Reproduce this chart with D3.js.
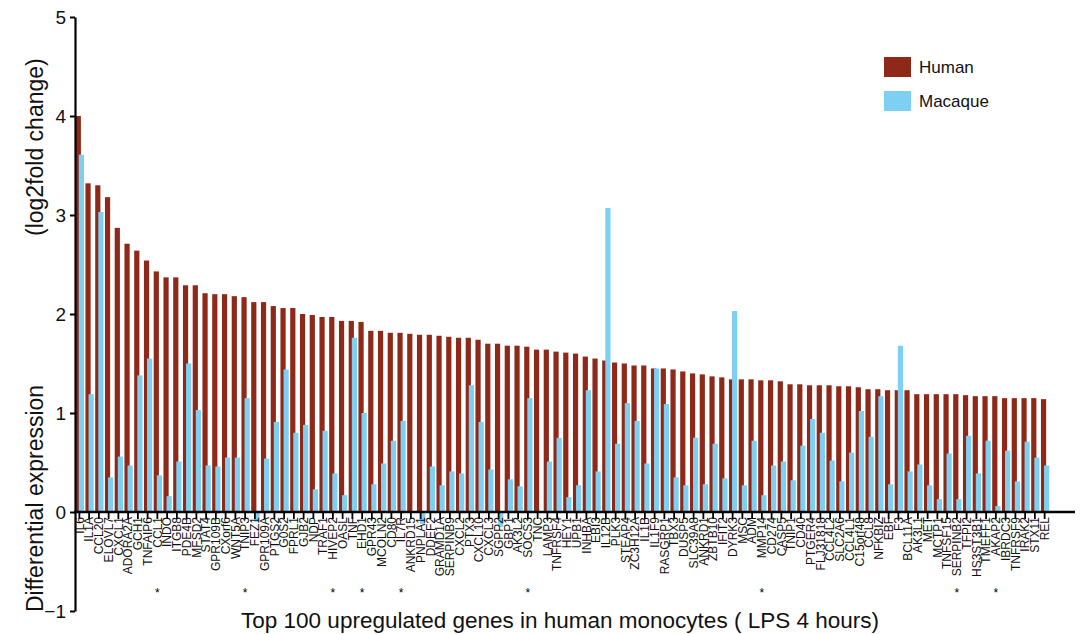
<!DOCTYPE html>
<html>
<head>
<meta charset="utf-8">
<script src="https://cdn.jsdelivr.net/npm/d3@7"></script>
<style>
  body { margin: 0; background: #fff; }
  svg text { font-family: "Liberation Sans", Arial, sans-serif; }
</style>
</head>
<body>
<svg id="chart" width="1082" height="634"></svg>
<script>
// Top 100 genes, in plotted order
var genes = ["IL6", "IL1A", "CCL20", "ELOVL7", "CXCL1", "ADORA2A", "GCH1", "TNFAIP6", "CCL1", "INDO",
  "ITGB8", "PDE4B", "MFSD2", "STAT4", "GPR109B", "CXorf6", "WNT5A", "TNIP3", "FEZ1", "GPR109A",
  "PTGS2", "G0S2", "FPRL1", "GJB2", "NDP", "TRAF1", "HIVEP2", "OASL", "TNF", "EHD1",
  "GPR43", "MCOLN2", "CD80", "IL7R", "ANKRD15", "PNPLA1", "DDEF2", "GRAMD1A", "SERPINB9", "CXCL2",
  "PTX3", "CXCL10", "CXCL3", "SGPP2", "GBP1", "AK3L2", "SOCS3", "TNC", "LAMP3", "TNFRSF4",
  "HEY1", "UPB1", "INHBA", "EBI3", "IL12B", "PLK3", "STEAP4", "ZC3H12A", "IL1B", "IL1F9",
  "RASGRP1", "TBX3", "DUSP5", "SLC39A8", "ANKRD1", "ZBTB10", "IFIT2", "DYRK3", "MSC", "ADM",
  "MMP14", "CD274", "CASP5", "TNIP1", "CD40", "PTGER4", "FLJ31818", "CCL4L2", "SLC2A6", "CCL4L1",
  "C15orf48", "CCL8", "NFKBIZ", "EBF", "F3", "BCL11A", "AK3L1", "MET", "MCTP1", "TNFSF15",
  "SERPINB2", "TFPI2", "HS3ST3B1", "TMEFF1", "AKAP2", "IBRDC3", "TNFRSF9", "IRAK2", "STX11", "REL"];

var human = [4.00, 3.32, 3.30, 3.18, 2.87, 2.71, 2.64, 2.54, 2.43, 2.37,
  2.37, 2.29, 2.29, 2.21, 2.20, 2.20, 2.18, 2.17, 2.12, 2.12,
  2.08, 2.06, 2.06, 2.00, 1.99, 1.97, 1.97, 1.93, 1.93, 1.92,
  1.83, 1.83, 1.81, 1.81, 1.80, 1.79, 1.79, 1.78, 1.77, 1.76,
  1.76, 1.74, 1.70, 1.70, 1.68, 1.68, 1.67, 1.64, 1.64, 1.62,
  1.61, 1.60, 1.57, 1.55, 1.53, 1.51, 1.50, 1.48, 1.48, 1.45,
  1.45, 1.44, 1.42, 1.40, 1.39, 1.37, 1.36, 1.34, 1.34, 1.34,
  1.33, 1.33, 1.32, 1.29, 1.29, 1.28, 1.28, 1.28, 1.27, 1.27,
  1.26, 1.24, 1.24, 1.23, 1.23, 1.23, 1.19, 1.19, 1.19, 1.19,
  1.19, 1.18, 1.17, 1.17, 1.17, 1.15, 1.15, 1.15, 1.15, 1.14];

var macaque = [3.61, 1.19, 3.03, 0.35, 0.56, 0.47, 1.38, 1.55, 0.37, 0.16,
  0.51, 1.50, 1.03, 0.47, 0.46, 0.55, 0.55, 1.15, -0.10, 0.54,
  0.91, 1.44, 0.80, 0.88, 0.23, 0.82, 0.39, 0.17, 1.76, 1.00,
  0.28, 0.49, 0.72, 0.92, 0.00, -0.12, 0.46, 0.27, 0.41, 0.39,
  1.28, 0.91, 0.43, -0.15, 0.33, 0.26, 1.15, 0.00, 0.51, 0.75,
  0.15, 0.27, 1.23, 0.41, 3.07, 0.69, 1.10, 0.92, 0.49, 1.45,
  1.09, 0.35, 0.27, 0.75, 0.28, 0.69, 0.34, 2.03, 0.27, 0.72,
  0.17, 0.47, 0.51, 0.32, 0.67, 0.94, 0.80, 0.52, 0.31, 0.60,
  1.02, 0.76, 1.17, 0.28, 1.68, 0.41, 0.48, 0.27, 0.13, 0.59,
  0.13, 0.77, 0.39, 0.72, 0.06, 0.62, 0.31, 0.71, 0.55, 0.47];

// genes marked with an asterisk under the axis
var starred = ["CCL1", "TNIP3", "HIVEP2", "EHD1", "IL7R", "SOCS3", "MMP14", "SERPINB2", "AKAP2"];

var yTicks = [-1, 0, 1, 2, 3, 4, 5];
var seriesNames = ["Human", "Macaque"];

var HUMAN_COLOR = "#8e2819";
var MACAQUE_COLOR = "#7ed0f3";

var svg = d3.select("#chart");

var x = d3.scaleBand()
  .domain(genes)
  .range([74.5, 1049.5])
  .paddingInner(0)
  .paddingOuter(0);

var y = d3.scaleLinear()
  .domain([-1, 5])
  .range([611, 17]);

var bw = x.bandwidth();

// Bars: human first, macaque drawn on top and shifted right
svg.append("g")
  .selectAll("rect")
  .data(genes)
  .enter().append("rect")
  .attr("x", function (d) { return x(d) + 1.2; })
  .attr("width", 5.2)
  .attr("y", function (d, i) { return y(Math.max(0, human[i])); })
  .attr("height", function (d, i) { return Math.abs(y(human[i]) - y(0)); })
  .attr("fill", HUMAN_COLOR);

svg.append("g")
  .selectAll("rect")
  .data(genes)
  .enter().append("rect")
  .attr("x", function (d) { return x(d) + 4.3; })
  .attr("width", 5.2)
  .attr("y", function (d, i) { return y(Math.max(0, macaque[i])); })
  .attr("height", function (d, i) { return Math.abs(y(macaque[i]) - y(0)); })
  .attr("fill", MACAQUE_COLOR);

// Y axis
var yAxis = svg.append("g")
  .attr("transform", "translate(75,0)")
  .call(d3.axisLeft(y).tickValues(yTicks).tickSize(5).tickSizeOuter(0).tickFormat(d3.format("d")));

yAxis.select(".domain").attr("stroke-width", 2.2);
yAxis.selectAll(".tick line").attr("stroke-width", 2);
yAxis.selectAll(".tick text")
  .attr("font-size", 19)
  .attr("x", -9)
  .attr("fill", "#111");

// X axis (gene labels)
var xAxis = svg.append("g")
  .attr("transform", "translate(0," + y(0) + ")")
  .call(d3.axisBottom(x).tickSize(7).tickSizeOuter(0));

xAxis.select(".domain").remove();
xAxis.selectAll(".tick line").attr("stroke-width", 1.8);
xAxis.selectAll(".tick text")
  .attr("font-size", 12)
  .attr("fill", "#111")
  .attr("transform", "rotate(-90)")
  .attr("x", -5)
  .attr("y", 0)
  .attr("dy", "0.36em")
  .style("text-anchor", "end");

svg.append("line")
  .attr("x1", 74)
  .attr("x2", 1075)
  .attr("y1", y(0))
  .attr("y2", y(0))
  .attr("stroke", "#000")
  .attr("stroke-width", 2.6);

// Asterisks
svg.append("g")
  .selectAll("text")
  .data(starred)
  .enter().append("text")
  .attr("x", function (d) { return x(d) + bw / 2; })
  .attr("y", 597)
  .attr("text-anchor", "middle")
  .attr("font-size", 12)
  .text("*");

// Axis titles
svg.append("text")
  .attr("transform", "translate(43,612) rotate(-90)")
  .attr("font-size", 23)
  .attr("fill", "#111")
  .text("Differential expression");

svg.append("text")
  .attr("transform", "translate(43,236) rotate(-90)")
  .attr("font-size", 23)
  .attr("fill", "#111")
  .text("(log2fold change)");

svg.append("text")
  .attr("x", 560)
  .attr("y", 628)
  .attr("text-anchor", "middle")
  .attr("font-size", 22.5)
  .attr("fill", "#111")
  .text("Top 100 upregulated genes in human monocytes ( LPS 4 hours)");

// Legend
var legend = svg.append("g")
  .selectAll("g")
  .data(seriesNames)
  .enter().append("g")
  .attr("transform", function (d, i) { return "translate(884," + (57 + i * 34) + ")"; });

legend.append("rect")
  .attr("width", 27)
  .attr("height", 20)
  .attr("fill", function (d, i) { return i === 0 ? HUMAN_COLOR : MACAQUE_COLOR; });

legend.append("text")
  .attr("x", 35)
  .attr("y", 16)
  .attr("font-size", 17)
  .attr("fill", "#111")
  .text(function (d) { return d; });
</script>
</body>
</html>
